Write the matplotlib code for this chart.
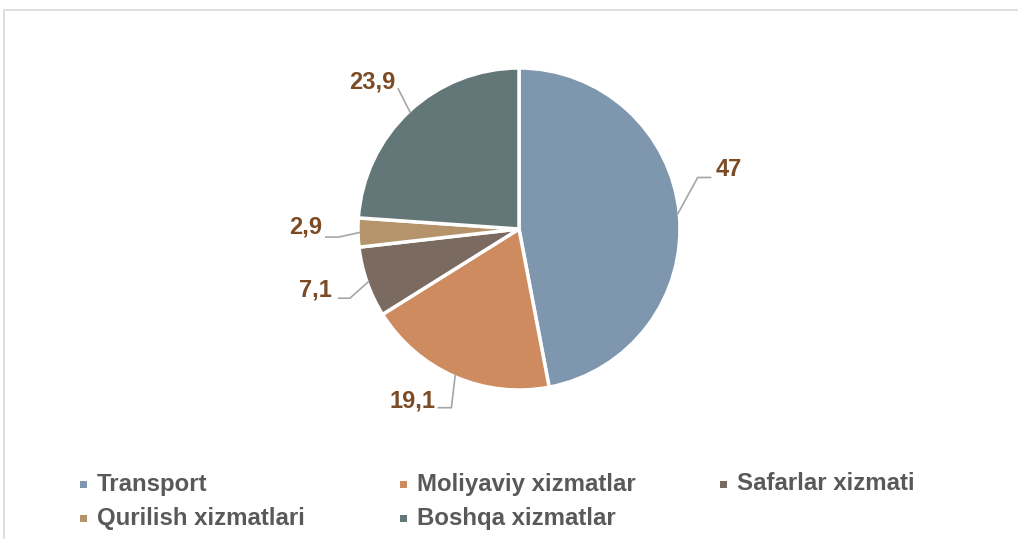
"""
Pie chart: xizmatlar tarkibi (%)
"""

import numpy as np
import matplotlib
matplotlib.use('Agg')
import matplotlib.pyplot as plt
import matplotlib.patches as mpatches

plt.rcParams['font.family'] = ['Liberation Sans', 'DejaVu Sans']

# Data

categories = ['Transport', 'Moliyaviy xizmatlar', 'Safarlar xizmati',
              'Qurilish xizmatlari', 'Boshqa xizmatlar']
values = [47, 19.1, 7.1, 2.9, 23.9]
value_labels = ['47', '19,1', '7,1', '2,9', '23,9']
colors = ['#7f97ae', '#cd8b5f', '#7a6a5f', '#b5946b', '#647778']

label_color = '#7b4b26'
leader_color = '#a6a6a6'
legend_color = '#595959'

# leader line layout (elbow, end, text pos, ha) in units of radius
leaders = [
    ((1.11, 0.32), (1.19, 0.32), (1.22, 0.37), 'left'),
    ((-0.42, -1.11), (-0.50, -1.11), (-0.52, -1.07), 'right'),
    ((-1.05, -0.43), (-1.12, -0.43), (-1.16, -0.38), 'right'),
    ((-1.12, -0.05), (-1.20, -0.05), (-1.225, 0.01), 'right'),
    (None, (-0.75, 0.87), (-0.91, 0.91), 'center'),
]

W, H = 1018, 539
fig = plt.figure(figsize=(W / 100, H / 100), dpi=100)
fig.patch.set_facecolor('white')

# chart frame
frame = mpatches.Rectangle((4 / W, -0.1), 1.2, (H - 10) / H + 0.1,
                           transform=fig.transFigure, fill=False,
                           edgecolor='#d9d9d9', linewidth=1.2)
fig.patches.append(frame)

cx, cy, r = 519, 229, 161
ax = fig.add_axes([(cx - r) / W, (H - cy - r) / H, 2 * r / W, 2 * r / H])
wedges, _ = ax.pie(values, colors=colors, startangle=90, counterclock=False,
                   radius=1, wedgeprops=dict(edgecolor='white', linewidth=2.5))
ax.set_xlim(-1, 1)
ax.set_ylim(-1, 1)
ax.set_aspect('auto')
ax.axis('off')

for w, lab, (elbow, end, tpos, ha) in zip(wedges, value_labels, leaders):
    mid = np.deg2rad((w.theta1 + w.theta2) / 2)
    start = (0.99 * np.cos(mid), 0.99 * np.sin(mid))
    pts = [start] + ([elbow] if elbow else []) + [end]
    xs, ys = zip(*pts)
    ax.plot(xs, ys, color=leader_color, linewidth=1.2, clip_on=False)
    ax.text(tpos[0], tpos[1], lab, ha=ha, va='center', fontsize=17,
            fontweight='bold', color=label_color, clip_on=False)

# legend
col_x = [80, 400, 720]
row_y = [484, 518]
for i, (name, c) in enumerate(zip(categories, colors)):
    x = col_x[i % 3]
    y = row_y[i // 3]
    sq = mpatches.Rectangle((x / W, (H - y - 3.5) / H), 7 / W, 7 / H,
                            transform=fig.transFigure, facecolor=c,
                            edgecolor='none')
    fig.patches.append(sq)
    fig.text((x + 17) / W, (H - y) / H, name, ha='left', va='center',
             fontsize=17.3, fontweight='bold', color=legend_color)

plt.savefig('out.png', dpi=100)
